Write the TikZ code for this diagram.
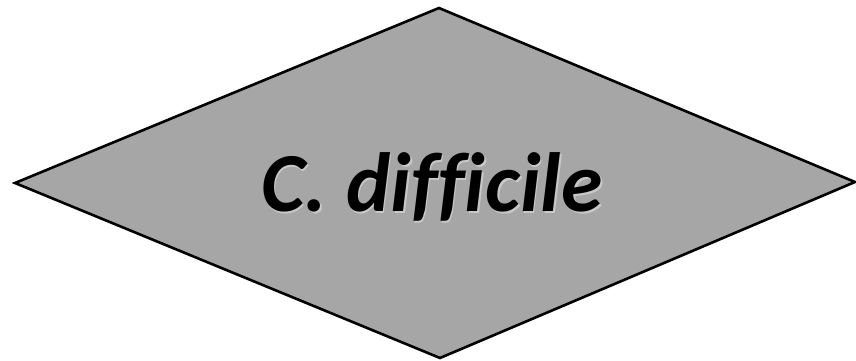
\documentclass[tikz,border=0pt]{standalone}
\usepackage{fontspec}
\setmainfont[Ligatures=CommonOff]{Carlito}
\definecolor{fillgray}{RGB}{166,166,166}
\definecolor{glowgray}{RGB}{200,200,200}
\tikzset{
  shapeline/.style={draw=black, line width=2.6pt, line join=miter, fill=fillgray},
  label/.style={font=\fontsize{84}{90}\selectfont\bfseries\itshape, text=black},
  glow/.style={label, text=glowgray}
}
\begin{document}
\begin{tikzpicture}[x=1pt,y=1pt]
\useasboundingbox (0,0) rectangle (856,361);
\coordinate (T) at (439,353);
\coordinate (L) at (15,178);
\coordinate (R) at (855,179);
\coordinate (B) at (440,3);
\draw[shapeline] (T) -- (R) -- (B) -- (L) -- cycle;
\node[glow, anchor=base] (txtglow) at (433.5,147.5) {C. difficile};
\node[label, anchor=base] (txt) at (432,149) {C. difficile};
\end{tikzpicture}
\end{document}
